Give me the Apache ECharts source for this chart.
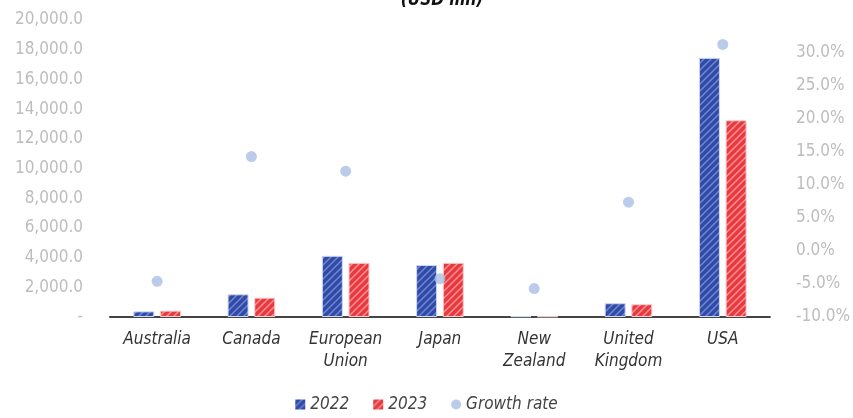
<!DOCTYPE html>
<html>
<head>
<meta charset="utf-8">
<script src="https://cdn.jsdelivr.net/npm/echarts@6/dist/echarts.min.js"></script>
<style>
  html, body { margin: 0; padding: 0; background: #fff; }
  #main { width: 853px; height: 418px; }
</style>
</head>
<body>
<div id="main"></div>
<script>
// data
const countries = ['Australia', 'Canada', 'European\nUnion', 'Japan', 'New\nZealand', 'United\nKingdom', 'USA'];
const values2022 = [380, 1530, 4120, 3500, 50, 930, 17450];
const values2023 = [430, 1300, 3650, 3650, 40, 860, 13250];
const growthRate = [-4.6, 14.3, 12.1, -4.2, -5.7, 7.4, 31.3];

const FONT = '"Liberation Sans Narrow", "DejaVu Sans Condensed", "Roboto", sans-serif';

// diagonal hatch fill like the original bars
function makeHatch(base, stripe) {
  const c = document.createElement('canvas');
  c.width = 7; c.height = 7;
  const ctx = c.getContext('2d');
  ctx.fillStyle = base;
  ctx.fillRect(0, 0, 7, 7);
  ctx.strokeStyle = stripe;
  ctx.lineWidth = 1.5;
  ctx.beginPath();
  ctx.moveTo(-1, 8); ctx.lineTo(8, -1);
  ctx.moveTo(-8, 8); ctx.lineTo(1, -1);
  ctx.moveTo(6, 8); ctx.lineTo(15, -1);
  ctx.stroke();
  return { image: c, repeat: 'repeat' };
}

const blue = makeHatch('#2f4aa8', '#7088cc');
const red = makeHatch('#e9383e', '#f69194');

const chart = echarts.init(document.getElementById('main'));
chart.setOption({
  animation: false,
  textStyle: { fontFamily: FONT },
  title: {
    text: '(USD mn)',
    left: 437,
    textAlign: 'center',
    top: -13,
    textStyle: { fontSize: 17, fontWeight: 'bold', fontStyle: 'italic', color: '#111', fontFamily: FONT }
  },
  grid: { left: 110, right: 83, top: 20, bottom: 101 },
  legend: {
    bottom: 0,
    left: 'center',
    itemWidth: 10,
    itemHeight: 10,
    itemGap: 24,
    textStyle: { fontSize: 17, fontStyle: 'italic', color: '#444', fontFamily: FONT },
    data: [
      { name: '2022', icon: 'rect', itemStyle: { color: blue, borderWidth: 0 } },
      { name: '2023', icon: 'rect', itemStyle: { color: red, borderWidth: 0 } },
      { name: 'Growth rate', icon: 'circle', itemStyle: { color: '#a9bfe3' } }
    ]
  },
  xAxis: {
    type: 'category',
    data: countries,
    axisLine: { lineStyle: { color: '#444', width: 2 } },
    axisTick: { show: false },
    axisLabel: {
      color: '#333', fontSize: 17, fontStyle: 'italic', lineHeight: 22,
      margin: 12, interval: 0, fontFamily: FONT
    }
  },
  yAxis: [
    {
      type: 'value', min: 0, max: 20000, interval: 2000,
      splitLine: { show: false },
      axisLine: { show: false },
      axisTick: { show: false },
      axisLabel: {
        color: '#bdbdbd', fontSize: 17, margin: 27, fontFamily: FONT,
        formatter: v => v === 0 ? '-' : v.toLocaleString('en-US', { minimumFractionDigits: 1, maximumFractionDigits: 1 })
      }
    },
    {
      type: 'value', min: -10, max: 35, interval: 5,
      position: 'right',
      splitLine: { show: false },
      axisLine: { show: false },
      axisTick: { show: false },
      axisLabel: {
        color: '#bdbdbd', fontSize: 17, margin: 26, fontFamily: FONT,
        formatter: v => v >= 35 ? '' : v.toFixed(1) + '%'
      }
    }
  ],
  series: [
    {
      name: '2022', type: 'bar', data: values2022, barWidth: 21, barGap: '27%',
      itemStyle: { color: blue, borderColor: '#d0d8f0', borderWidth: 1 }
    },
    {
      name: '2023', type: 'bar', data: values2023, barWidth: 21,
      itemStyle: { color: red, borderColor: '#f8cccd', borderWidth: 1 }
    },
    {
      name: 'Growth rate', type: 'scatter', yAxisIndex: 1, data: growthRate,
      symbolSize: 11, itemStyle: { color: '#a9bfe3' }
    }
  ]
});
</script>
</body>
</html>
